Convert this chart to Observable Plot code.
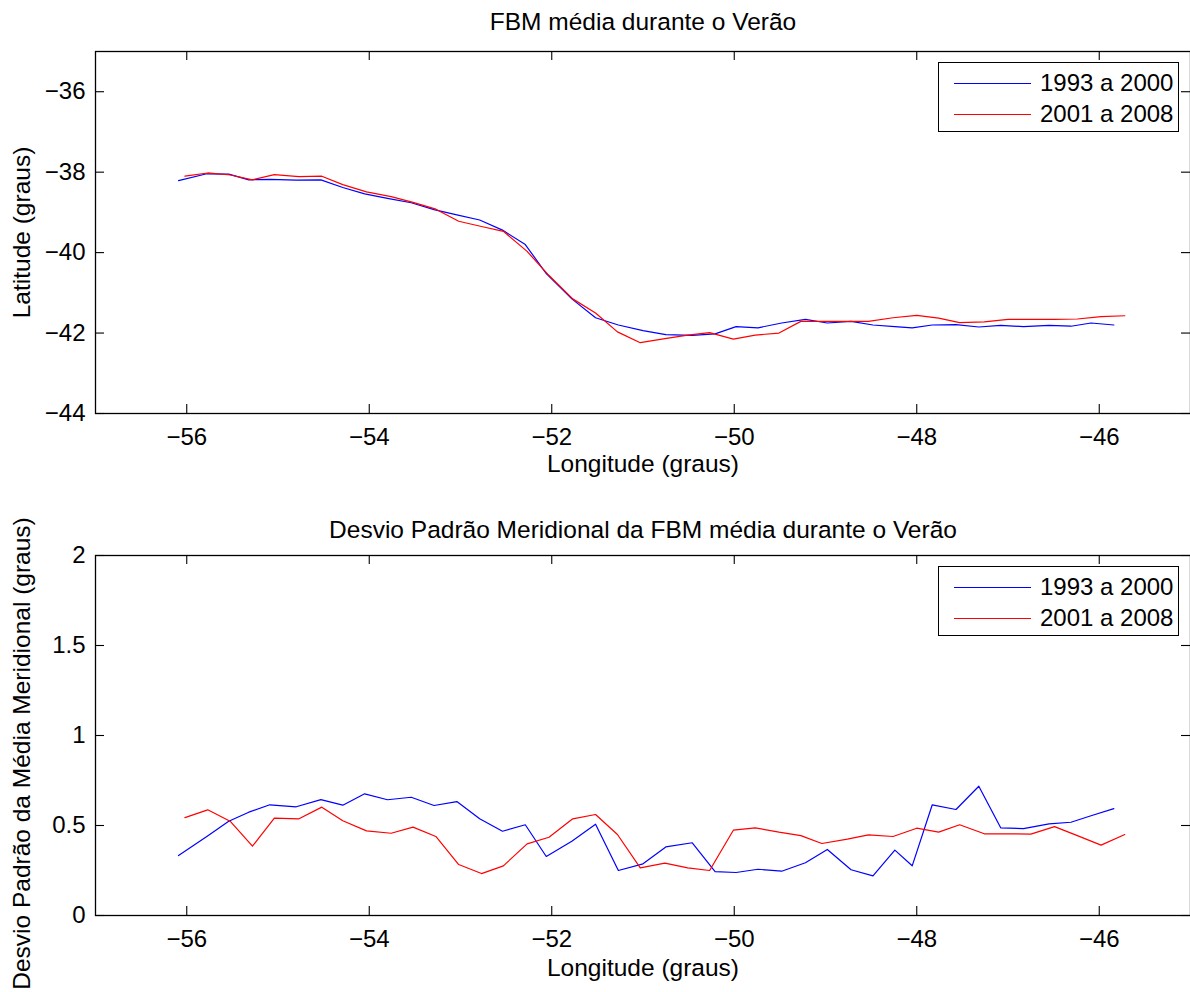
<!DOCTYPE html>
<html>
<head>
<meta charset="utf-8">
<script src="https://cdn.jsdelivr.net/npm/d3@7"></script>
<script src="https://cdn.jsdelivr.net/npm/@observablehq/plot@0.6"></script>
<style>
  body { margin: 0; background: #fff; }
  #fig { position: relative; width: 1190px; height: 992px; overflow: hidden; background: #fff;
         font-family: "Liberation Sans", Arial, Helvetica, sans-serif; }
  .panel { position: absolute; left: 0; }
  .legend { position: absolute; left: 938px; width: 239px; height: 68px; border: 1.5px solid #000;
            background: #fff; font-size: 24px; color: #000; }
  .legend .row { position: absolute; left: 0; height: 30px; }
  .legend .swatch { position: absolute; left: 15px; top: 15px; width: 77px; height: 0; border-top: 1.3px solid; }
  .legend .lbl { position: absolute; left: 101px; top: 0; white-space: nowrap; line-height: 30px; }
</style>
</head>
<body>
<div id="fig"></div>
<script>
// Mean position of the Brazil–Malvinas front (summer), two periods
const seriesNames = ["1993 a 2000", "2001 a 2008"];
const seriesColors = ["#0000ff", "#ff0000"];

// 1993–2000
const lon1993 = [-56.09, -55.78, -55.54, -55.32, -55.09, -54.80, -54.53, -54.29, -54.05, -53.80,
                 -53.54, -53.29, -53.04, -52.79, -52.54, -52.29, -52.06, -51.78, -51.52, -51.27,
                 -51.00, -50.75, -50.46, -50.21, -49.98, -49.74, -49.48, -49.22, -48.98, -48.72,
                 -48.48, -48.24, -48.05, -47.83, -47.57, -47.32, -47.08, -46.83, -46.55, -46.31,
                 -46.09, -45.84];
const lat1993 = [-38.21, -38.04, -38.05, -38.19, -38.18, -38.20, -38.19, -38.38, -38.54, -38.65,
                 -38.76, -38.93, -39.06, -39.19, -39.44, -39.80, -40.52, -41.15, -41.62, -41.80,
                 -41.94, -42.04, -42.06, -42.02, -41.84, -41.87, -41.75, -41.66, -41.75, -41.71,
                 -41.80, -41.84, -41.87, -41.80, -41.79, -41.85, -41.81, -41.84, -41.81, -41.83,
                 -41.75, -41.80];
const std1993 = [0.333, 0.439, 0.524, 0.574, 0.615, 0.604, 0.644, 0.613, 0.676, 0.643,
                 0.657, 0.611, 0.633, 0.537, 0.468, 0.504, 0.328, 0.413, 0.507, 0.250,
                 0.287, 0.381, 0.404, 0.244, 0.239, 0.257, 0.246, 0.293, 0.367, 0.254,
                 0.220, 0.363, 0.276, 0.615, 0.589, 0.718, 0.487, 0.483, 0.509, 0.518,
                 0.554, 0.594];

// 2001–2008
const lon2001 = [-56.02, -55.77, -55.52, -55.28, -55.04, -54.77, -54.52, -54.29, -54.03, -53.76,
                 -53.52, -53.27, -53.02, -52.77, -52.53, -52.27, -52.03, -51.77, -51.52, -51.28,
                 -51.03, -50.76, -50.51, -50.27, -50.01, -49.77, -49.51, -49.27, -49.04, -48.76,
                 -48.53, -48.26, -48.00, -47.76, -47.53, -47.26, -47.00, -46.75, -46.49, -46.24,
                 -45.98, -45.72];
const lat2001 = [-38.10, -38.02, -38.07, -38.19, -38.06, -38.11, -38.10, -38.31, -38.49, -38.61,
                 -38.75, -38.92, -39.22, -39.35, -39.47, -39.97, -40.57, -41.15, -41.50, -41.97,
                 -42.24, -42.14, -42.05, -41.99, -42.15, -42.05, -42.00, -41.71, -41.71, -41.71,
                 -41.71, -41.62, -41.56, -41.63, -41.74, -41.72, -41.66, -41.66, -41.66, -41.65,
                 -41.59, -41.57];
const std2001 = [0.544, 0.587, 0.522, 0.385, 0.541, 0.537, 0.602, 0.526, 0.470, 0.457,
                 0.491, 0.439, 0.283, 0.233, 0.276, 0.398, 0.435, 0.537, 0.561, 0.450,
                 0.265, 0.291, 0.265, 0.250, 0.474, 0.487, 0.463, 0.444, 0.400, 0.424,
                 0.448, 0.439, 0.485, 0.463, 0.504, 0.454, 0.454, 0.452, 0.494, 0.444,
                 0.391, 0.450];

const lonTicks = [-56, -54, -52, -50, -48, -46];
const latTicks = [-44, -42, -40, -38, -36];
const stdTicks = [0, 0.5, 1, 1.5, 2];

const FONT = '"Liberation Sans", Arial, Helvetica, sans-serif';
const W = 1190, H = 496;
const fmt = d => (d < 0 ? "\u2212" + Math.abs(d) : String(d));

function rows(lon, val, name) {
  return lon.map((x, i) => ({lon: x, v: val[i], serie: name}));
}

function panel({title, ylabel, yDomain, yTicks, a, b, mt, mb, titleDy, xlabelDy, ylabelDy}) {
  const fw = W - 95 - 0, fh = H - mt - mb;
  const tick = 9;
  const txt = {fill: "#000", fontSize: 24.5, lineAnchor: "middle", textAnchor: "middle"};
  return Plot.plot({
    width: W, height: H,
    marginLeft: 95, marginRight: 0, marginTop: mt, marginBottom: mb,
    style: {fontFamily: FONT, fontSize: "24px", color: "#000", background: "transparent", overflow: "visible"},
    x: {domain: [-57, -45], ticks: lonTicks, tickSize: 0, tickPadding: 14, tickFormat: fmt, label: null},
    y: {domain: yDomain, ticks: yTicks, tickSize: 0, tickPadding: 10, tickFormat: fmt, label: null},
    marks: [
      Plot.frame({stroke: "#000", strokeWidth: 1.3}),
      Plot.tickX(lonTicks, {x: d => d, insetTop: fh - tick, stroke: "#000", strokeWidth: 1.1}),
      Plot.tickX(lonTicks, {x: d => d, insetBottom: fh - tick, stroke: "#000", strokeWidth: 1.1}),
      Plot.tickY(yTicks, {y: d => d, insetRight: fw - tick, stroke: "#000", strokeWidth: 1.1}),
      Plot.tickY(yTicks, {y: d => d, insetLeft: fw - tick, stroke: "#000", strokeWidth: 1.1}),
      Plot.line(a, {x: "lon", y: "v", stroke: seriesColors[0], strokeWidth: 1.2}),
      Plot.line(b, {x: "lon", y: "v", stroke: seriesColors[1], strokeWidth: 1.2}),
      Plot.text([title], {...txt, frameAnchor: "top", dy: titleDy}),
      Plot.text(["Longitude (graus)"], {...txt, frameAnchor: "bottom", dy: xlabelDy}),
      Plot.text([ylabel], {...txt, frameAnchor: "left", dx: -73, dy: ylabelDy, rotate: -90})
    ]
  });
}

const fig = document.getElementById("fig");

const upperPanel = panel({
  title: "FBM média durante o Verão",
  ylabel: "Latitude (graus)",
  yDomain: [-44, -35], yTicks: latTicks,
  a: rows(lon1993, lat1993, seriesNames[0]),
  b: rows(lon2001, lat2001, seriesNames[1]),
  mt: 51, mb: 83, titleDy: -29, xlabelDy: 51, ylabelDy: 0
});
upperPanel.classList.add("panel");
upperPanel.style.top = "0px";
fig.appendChild(upperPanel);

const lowerPanel = panel({
  title: "Desvio Padrão Meridional da FBM média durante o Verão",
  ylabel: "Desvio Padrão da Média Meridional (graus)",
  yDomain: [0, 2], yTicks: stdTicks,
  a: rows(lon1993, std1993, seriesNames[0]),
  b: rows(lon2001, std2001, seriesNames[1]),
  mt: 59, mb: 77, titleDy: -25, xlabelDy: 53, ylabelDy: 18
});
lowerPanel.classList.add("panel");
lowerPanel.style.top = H + "px";
fig.appendChild(lowerPanel);

// legend boxes in the upper-right corner of each panel
function legend(topPx) {
  const box = document.createElement("div");
  box.className = "legend";
  box.style.top = topPx + "px";
  seriesNames.forEach((name, i) => {
    const row = document.createElement("div");
    row.className = "row";
    row.style.top = (5 + i * 31) + "px";
    row.style.width = "100%";
    const sw = document.createElement("div");
    sw.className = "swatch";
    sw.style.borderTopColor = seriesColors[i];
    const lb = document.createElement("div");
    lb.className = "lbl";
    lb.textContent = name;
    row.appendChild(sw);
    row.appendChild(lb);
    box.appendChild(row);
  });
  fig.appendChild(box);
}
legend(62);
legend(566);
</script>
</body>
</html>
